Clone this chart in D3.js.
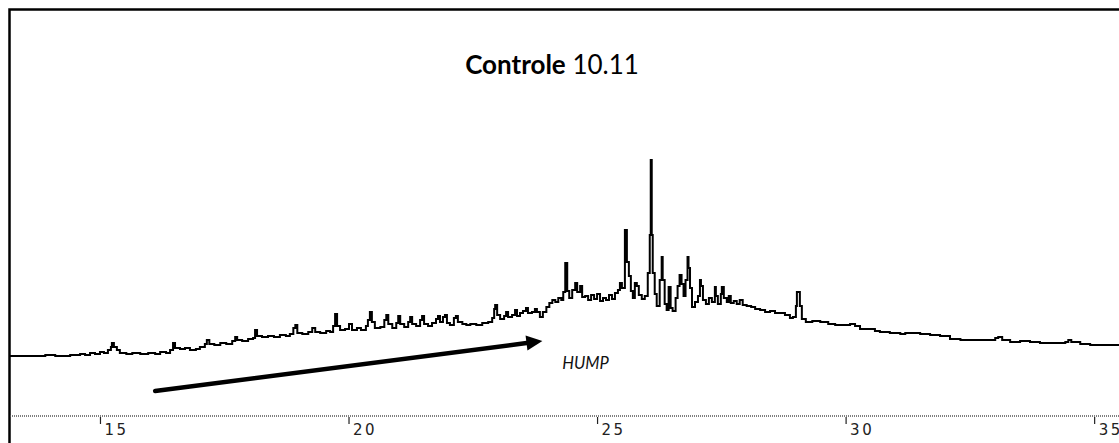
<!DOCTYPE html>
<html><head><meta charset="utf-8">
<script src="https://cdn.jsdelivr.net/npm/d3@7"></script>
<style>body{margin:0;background:#fff} svg{display:block}</style>
</head><body><svg id="chart" width="1119" height="443"></svg>
<script>
// Retention time (min)
const retentionTime = [
13.19,13.59,13.90,14.10,14.40,14.60,14.70,14.80,14.90,15.00,
15.08,15.16,15.22,15.24,15.28,15.34,15.40,15.53,15.65,15.81,
15.97,16.11,16.21,16.33,16.41,16.47,16.51,16.61,16.71,16.81,
16.93,17.01,17.11,17.15,17.20,17.30,17.42,17.54,17.66,17.72,
17.76,17.86,17.98,18.08,18.12,18.16,18.26,18.38,18.50,18.62,
18.74,18.82,18.89,18.93,18.97,19.07,19.19,19.27,19.33,19.43,
19.55,19.63,19.69,19.73,19.77,19.83,19.93,20.01,20.07,20.17,
20.25,20.35,20.39,20.43,20.47,20.53,20.64,20.72,20.76,20.80,
20.88,20.96,21.00,21.04,21.12,21.20,21.24,21.28,21.36,21.44,
21.48,21.52,21.60,21.68,21.76,21.80,21.84,21.90,21.94,21.98,
22.04,22.12,22.16,22.20,22.29,22.37,22.45,22.57,22.69,22.81,
22.89,22.93,22.95,22.99,23.05,23.13,23.17,23.21,23.29,23.35,
23.39,23.45,23.51,23.57,23.61,23.69,23.75,23.79,23.85,23.91,
23.98,24.04,24.10,24.16,24.22,24.28,24.32,24.36,24.40,24.44,
24.50,24.56,24.60,24.66,24.70,24.76,24.82,24.88,24.94,25.00,
25.06,25.12,25.18,25.24,25.30,25.36,25.42,25.46,25.50,25.56,
25.58,25.60,25.64,25.68,25.72,25.76,25.80,25.84,25.90,25.96,
26.02,26.06,26.08,26.10,26.12,26.16,26.20,26.26,26.30,26.32,
26.36,26.40,26.44,26.48,26.52,26.58,26.62,26.66,26.70,26.74,
26.78,26.82,26.84,26.87,26.91,26.97,27.03,27.07,27.09,27.13,
27.19,27.25,27.31,27.37,27.39,27.43,27.49,27.51,27.55,27.61,
27.65,27.69,27.75,27.81,27.87,27.93,28.01,28.10,28.18,28.28,
28.38,28.48,28.58,28.68,28.78,28.88,28.94,29.00,29.02,29.06,
29.08,29.12,29.20,29.33,29.49,29.65,29.79,29.95,30.09,30.19,
30.29,30.45,30.59,30.69,30.89,31.10,31.20,31.34,31.50,31.70,
31.90,32.10,32.31,32.61,32.91,33.01,33.07,33.15,33.31,33.51,
33.71,33.91,34.22,34.42,34.48,34.54,34.72,34.92,35.12,35.50
];
// Detector signal (arbitrary units)
const signal = [
60,60,61,60,61,62,61,63,62,64,
63,66,69,73,69,66,63,62,63,62,
63,62,64,63,66,73,68,67,68,66,
67,69,72,76,72,71,73,72,75,79,
76,75,77,78,86,80,79,80,79,81,
80,82,88,91,83,82,84,88,84,83,
85,84,90,102,90,86,87,92,86,88,
86,90,96,104,94,88,89,96,101,92,
88,93,100,92,89,94,99,92,90,96,
100,92,90,93,97,100,94,99,101,93,
91,98,100,94,92,91,92,91,93,94,
98,107,111,101,97,100,104,99,101,106,
100,103,105,108,103,104,107,104,99,104,
109,113,116,114,118,116,124,153,125,118,
126,133,124,130,119,120,116,121,117,122,
115,118,116,121,117,123,126,133,128,186,
186,154,140,125,118,133,130,121,117,120,
143,181,256,181,143,122,110,136,159,136,
112,106,129,108,105,118,130,141,132,120,
136,159,148,128,109,114,120,136,130,116,
112,118,114,129,120,112,122,129,118,114,
120,113,115,112,116,111,110,109,107,106,
104,105,103,103,101,98,99,110,124,124,
110,97,94,95,94,92,91,91,92,90,
87,87,85,84,83,82,83,83,82,81,
80,77,76,76,76,78,79,76,74,75,
74,73,73,74,76,74,72,71,71,71
];
const xTicks = [15, 20, 25, 30, 35];
const titleBold = "Controle";
const titleRest = " 10.11";
const annotationLabel = "HUMP";
const arrowStart = [16.11, 25];
const arrowEnd = [23.90, 75];
const labelPos = [24.30, 47];

const svg = d3.select("#chart");
const x = d3.scaleLinear().domain([13.19, 35.50]).range([10, 1119]);
const y = d3.scaleLinear().domain([0, 256]).range([416, 160]);

svg.append("rect").attr("width", 1119).attr("height", 443).attr("fill", "#fff");

// frame
svg.append("path").attr("d", "M9.5,443V9.5H1119")
  .attr("fill", "none").attr("stroke", "#000").attr("stroke-width", 2.5);

// axis
const axisG = svg.append("g").attr("transform", "translate(0,416)")
  .call(d3.axisBottom(x).tickValues(xTicks).tickSize(7).tickFormat(d3.format("d")));
axisG.select(".domain").remove();
axisG.append("line").attr("x1", 10).attr("x2", 1119).attr("y1", 0).attr("y2", 0)
  .attr("stroke", "#555").attr("stroke-width", 1.6).attr("stroke-dasharray", "1,1");
axisG.selectAll(".tick line").attr("stroke", "#222").attr("stroke-width", 1.2).attr("y1", 1).attr("y2", 8);
axisG.selectAll(".tick text")
  .attr("text-anchor", "start").attr("x", 4).attr("y", 18.5).attr("dy", null)
  .attr("fill", "#222").style("font-family", "'DejaVu Sans', sans-serif")
  .style("font-size", "15px").style("letter-spacing", "2.5px");

// trace
const line = d3.line()
  .x((d, i) => x(retentionTime[i]))
  .y((d) => y(d))
  .curve(d3.curveStepAfter);
svg.append("path").datum(signal).attr("d", line)
  .attr("fill", "none").attr("stroke", "#000").attr("stroke-width", 2)
  .attr("stroke-linejoin", "miter");

// arrow annotation
const x0 = x(arrowStart[0]), y0 = y(arrowStart[1]);
const x1 = x(arrowEnd[0]), y1 = y(arrowEnd[1]);
const ang = Math.atan2(y1 - y0, x1 - x0);
const headLen = 16, headHalf = 7.5;
const bx = x1 - headLen * Math.cos(ang), by = y1 - headLen * Math.sin(ang);
svg.append("line").attr("x1", x0).attr("y1", y0).attr("x2", bx + 2 * Math.cos(ang)).attr("y2", by + 2 * Math.sin(ang))
  .attr("stroke", "#000").attr("stroke-width", 4.5).attr("stroke-linecap", "round");
svg.append("path")
  .attr("d", `M${x1},${y1}L${bx - headHalf * Math.sin(ang)},${by + headHalf * Math.cos(ang)}L${bx + headHalf * Math.sin(ang)},${by - headHalf * Math.cos(ang)}Z`)
  .attr("fill", "#000");

svg.append("text").attr("x", x(labelPos[0])).attr("y", y(labelPos[1]))
  .style("font-family", "Lato, sans-serif").style("font-style", "italic")
  .style("font-size", "16.5px").attr("fill", "#111").text(annotationLabel);

// title
const title = svg.append("text").attr("x", 552).attr("y", 74).attr("text-anchor", "middle")
  .style("font-family", "Lato, sans-serif").style("font-size", "26px").attr("fill", "#000");
title.append("tspan").style("font-weight", "bold").text(titleBold);
title.append("tspan").text(titleRest);
</script>
</body></html>
